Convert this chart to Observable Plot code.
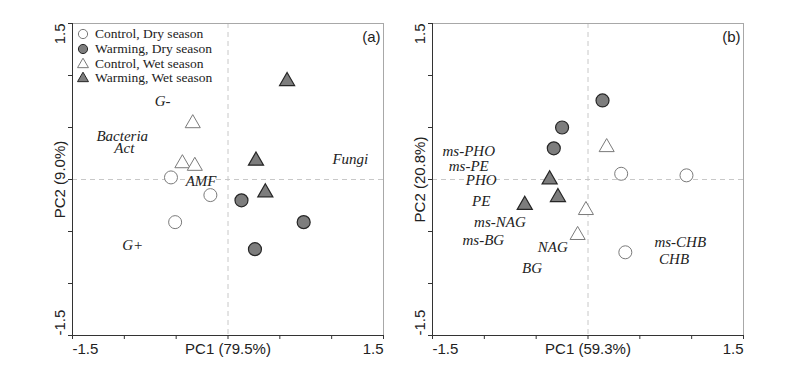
<!DOCTYPE html>
<html>
<head>
<meta charset="utf-8">
<script src="https://cdn.jsdelivr.net/npm/d3@7"></script>
<script src="https://cdn.jsdelivr.net/npm/@observablehq/plot@0.6"></script>
<style>
  html, body { margin: 0; padding: 0; background: #fff; }
  #wrap { position: relative; width: 812px; height: 376px; display: flex; }
  #wrap svg { display: block; }
  #legend { position: absolute; left: 77px; top: 27px; font-family: "Liberation Serif", "Times New Roman", serif; font-size: 13.5px; color: #222; }
  #legend .row { height: 14.7px; display: flex; align-items: center; white-space: nowrap; }
  #legend svg { margin-right: 6px; flex: none; }
</style>
</head>
<body>
<div id="wrap"></div>
<script>
// ---- data ----
const groups = ["Control, Dry season", "Warming, Dry season", "Control, Wet season", "Warming, Wet season"];
const tickValues = [-1.5, -1, -0.5, 0, 0.5, 1, 1.5];
const tickLow = ["-1.5"];
const tickHigh = ["1.5"];

// Panel (a): PLFA
const aControlDry = [[-0.55, 0.02], [-0.17, -0.15], [-0.51, -0.41]];
const aWarmingDry = [[0.13, -0.20], [0.73, -0.41], [0.26, -0.67]];
const aControlWet = [[-0.34, 0.54], [-0.44, 0.155], [-0.32, 0.13]];
const aWarmingWet = [[0.57, 0.945], [0.27, 0.18], [0.36, -0.125]];
const aLabels = ["G-", "Bacteria", "Act", "AMF", "Fungi", "G+"];
const aLabelX = [-0.63, -1.02, -1.0, -0.26, 1.18, -0.92];
const aLabelY = [0.75, 0.42, 0.30, -0.02, 0.20, -0.63];

// Panel (b): enzymes
const bControlDry = [[0.32, 0.055], [0.95, 0.04], [0.36, -0.70]];
const bWarmingDry = [[0.14, 0.76], [-0.25, 0.50], [-0.33, 0.30]];
const bControlWet = [[0.18, 0.31], [-0.02, -0.295], [-0.10, -0.535]];
const bWarmingWet = [[-0.37, 0.0], [-0.29, -0.17], [-0.61, -0.245]];
const bLabels = ["ms-PHO", "ms-PE", "PHO", "PE", "ms-NAG", "ms-BG", "NAG", "BG", "ms-CHB", "CHB"];
const bLabelX = [-1.15, -1.15, -1.03, -1.03, -0.85, -1.01, -0.34, -0.54, 0.89, 0.83];
const bLabelY = [0.27, 0.13, -0.005, -0.21, -0.41, -0.58, -0.65, -0.85, -0.60, -0.765];

const panels = [
  {tag: "(a)", xTitle: "PC1 (79.5%)", yTitle: "PC2 (9.0%)",
   cd: aControlDry, wd: aWarmingDry, cw: aControlWet, ww: aWarmingWet,
   labels: aLabels, lx: aLabelX, ly: aLabelY, width: 392, ml: 72, mr: 9},
  {tag: "(b)", xTitle: "PC1 (59.3%)", yTitle: "PC2 (20.8%)",
   cd: bControlDry, wd: bWarmingDry, cw: bControlWet, ww: bWarmingWet,
   labels: bLabels, lx: bLabelX, ly: bLabelY, width: 420, ml: 40, mr: 69}
];

const GRAY = "#7d7d7d", DARK = "#262626", OPEN = "#7a7a7a";
const serif = "Liberation Serif, Times New Roman, serif";
const txt = {fontSize: 15, fill: "#222", lineAnchor: "middle"};

function panel(p) {
  const lab = p.labels.map((t, i) => ({t, x: p.lx[i], y: p.ly[i]}));
  return Plot.plot({
    width: p.width, height: 376,
    marginLeft: p.ml, marginRight: p.mr, marginTop: 23, marginBottom: 41,
    style: {fontFamily: "Liberation Sans, Arial, sans-serif", fontSize: "15px", background: "#fff", color: "#222", overflow: "visible"},
    x: {domain: [-1.5, 1.5], axis: null},
    y: {domain: [-1.5, 1.5], axis: null},
    marks: [
      Plot.ruleX([0], {stroke: "#c8c8c8", strokeDasharray: "5,4"}),
      Plot.ruleY([0], {stroke: "#c8c8c8", strokeDasharray: "5,4"}),
      Plot.frame({stroke: "#a8a8a8"}),
      Plot.ruleX([-1.5], {stroke: "#333"}),
      Plot.ruleY([-1.5], {stroke: "#333"}),
      Plot.axisX(tickValues, {tickSize: 4, tickFormat: () => "", stroke: "#333", label: null}),
      Plot.axisY(tickValues, {tickSize: 4, tickFormat: () => "", stroke: "#333", label: null}),
      // x tick labels
      Plot.text(tickLow, {...txt, x: d => +d, text: d => d, frameAnchor: "bottom", dy: 14, textAnchor: "start"}),
      Plot.text(tickHigh, {...txt, x: d => +d, text: d => d, frameAnchor: "bottom", dy: 14, textAnchor: "end"}),
      // y tick labels (rotated)
      Plot.text(tickLow, {...txt, y: d => +d, text: d => d, frameAnchor: "left", dx: -12, rotate: -90, textAnchor: "start"}),
      Plot.text(tickHigh, {...txt, y: d => +d, text: d => d, frameAnchor: "left", dx: -12, rotate: -90, textAnchor: "end"}),
      // axis titles
      Plot.text([p.xTitle], {...txt, x: 0, text: d => d, frameAnchor: "bottom", dy: 14, textAnchor: "middle"}),
      Plot.text([p.yTitle], {...txt, y: 0, text: d => d, frameAnchor: "left", dx: -12, rotate: -90, textAnchor: "middle"}),
      // panel tag
      Plot.text([p.tag], {...txt, text: d => d, frameAnchor: "top-right", dx: -3, dy: 14, textAnchor: "end"}),
      // variable labels
      Plot.text(lab, {x: "x", y: "y", text: "t", fontFamily: serif, fontStyle: "italic", fontSize: 15, fill: "#222"}),
      // samples
      Plot.dot(p.cd, {x: d => d[0], y: d => d[1], r: 6.5, fill: "#fff", stroke: OPEN, strokeWidth: 1}),
      Plot.dot(p.wd, {x: d => d[0], y: d => d[1], r: 6.5, fill: GRAY, stroke: DARK, strokeWidth: 1.2}),
      Plot.dot(p.cw, {x: d => d[0], y: d => d[1], r: 5.6, symbol: "triangle", fill: "#fff", stroke: OPEN, strokeWidth: 1}),
      Plot.dot(p.ww, {x: d => d[0], y: d => d[1], r: 5.6, symbol: "triangle", fill: GRAY, stroke: DARK, strokeWidth: 1.2})
    ]
  });
}

const wrap = document.getElementById("wrap");
panels.forEach(p => wrap.appendChild(panel(p)));

// legend for panel (a)
const legend = document.createElement("div");
legend.id = "legend";
const sym = [
  {shape: "circle", fill: "#fff", stroke: OPEN},
  {shape: "circle", fill: GRAY, stroke: DARK},
  {shape: "triangle", fill: "#fff", stroke: OPEN},
  {shape: "triangle", fill: GRAY, stroke: DARK}
];
groups.forEach((g, i) => {
  const row = document.createElement("div");
  row.className = "row";
  const s = sym[i];
  const shape = s.shape === "circle"
    ? `<circle cx="6" cy="6" r="4.6" fill="${s.fill}" stroke="${s.stroke}"/>`
    : `<path d="${d3.symbol(d3.symbolTriangle, 52)()}" transform="translate(6,6.5)" fill="${s.fill}" stroke="${s.stroke}"/>`;
  row.innerHTML = `<svg width="12" height="12">${shape}</svg><span>${g}</span>`;
  legend.appendChild(row);
});
wrap.appendChild(legend);
</script>
</body>
</html>
